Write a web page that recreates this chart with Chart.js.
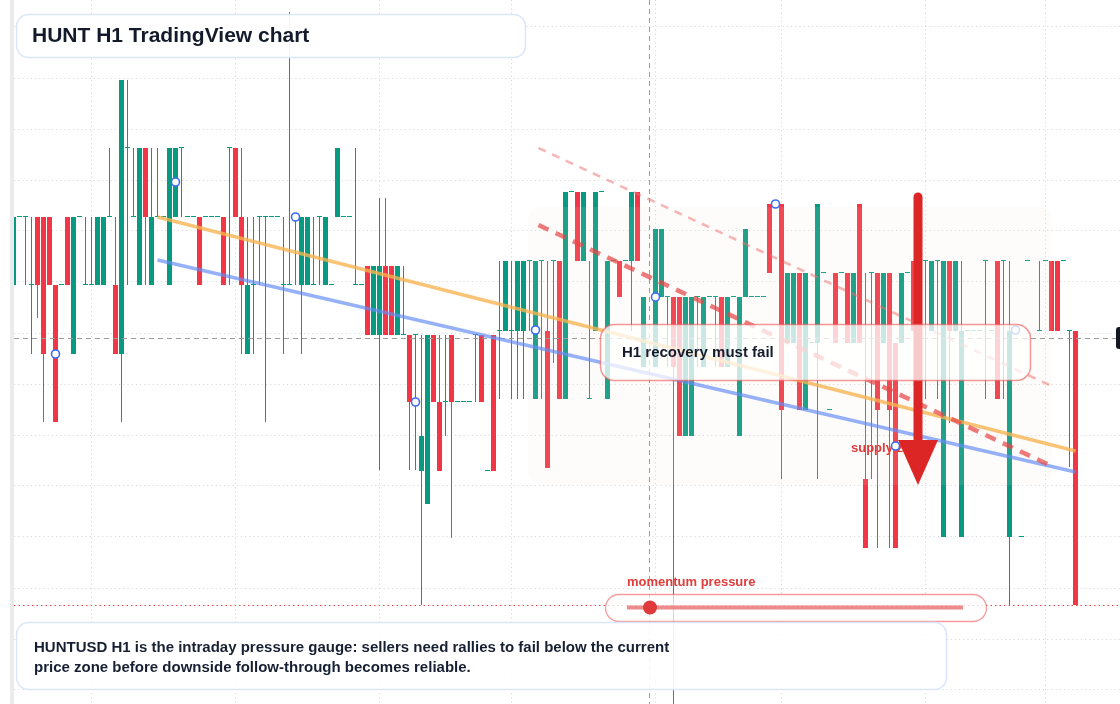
<!DOCTYPE html>
<html><head><meta charset="utf-8">
<script src="https://cdn.jsdelivr.net/npm/chart.js@4.4.1/dist/chart.umd.min.js"></script>
<style>
html,body{margin:0;padding:0;background:#fff;}
#wrap{position:relative;width:1120px;height:704px;overflow:hidden;}
canvas{display:block;}
</style></head><body>
<div id="wrap"><canvas id="c" width="1120" height="704"></canvas></div>
<script>
// HUNTUSD H1 candles (index = bar number)
const openP = [
.25320,.25388,.25388,.25320,.25388,.25388,.25388,.25320,.25320,.25388,
.25251,.25388,.25320,.25320,.25320,.25320,.25388,.25320,.25251,.25457,
.25388,.25320,.25457,.25320,.25388,.25388,.25320,.25388,.25457,.25388,
.25388,.25388,.25388,.25388,.25388,.25388,.25457,.25457,.25388,.25251,
.25320,.25388,.25388,.25388,.25388,.25320,.25320,.25388,.25320,.25320,
.25320,.25388,.25320,.25320,.25388,.25388,.25388,.25320,.25320,.25339,
.25270,.25270,.25339,.25339,.25270,.25270,.25270,.25270,.25134,.25101,
.25270,.25203,.25203,.25270,.25203,.25203,.25203,.25270,.25270,.25134,
.25270,.25274,.25274,.25274,.25274,.25274,.25344,.25206,.25344,.25274,
.25344,.25344,.25206,.25413,.25413,.25344,.25206,.25274,.25413,.25206,
.25344,.25344,.25344,.25344,.25413,.25238,null,.25238,.25308,.25308,
.25308,.25308,.25169,.25169,.25308,.25238,.25308,.25308,.25308,.25238,
.25308,.25169,.25308,.25308,.25308,.25308,.25401,null,.25401,.25262,
.25262,.25332,.25195,.25262,.25262,.25332,.25195,.25332,.25332,.25332,
.25262,.25401,.25126,.25332,.25332,.25262,.25332,.25262,.25262,.25332,
.25344,.25344,.25344,.25274,.25344,.25068,.25344,.25274,.25068,.25274,
.25274,.25274,.25344,.25274,.25344,.25344,.25068,null,.25068,.25344,
null,.25274,.25344,.25344,.25344,.25344,.25274,.25274];
const highP = [
.25388,.25388,.25388,.25388,.25388,.25388,.25388,.25320,.25320,.25388,
.25388,.25388,.25388,.25388,.25388,.25388,.25457,.25388,.25525,.25525,
.25457,.25457,.25457,.25457,.25457,.25388,.25457,.25457,.25457,.25388,
.25388,.25388,.25388,.25388,.25388,.25388,.25457,.25457,.25457,.25388,
.25388,.25388,.25388,.25388,.25388,.25388,.25593,.25388,.25388,.25388,
.25388,.25388,.25388,.25320,.25457,.25388,.25388,.25457,.25320,.25339,
.25339,.25407,.25407,.25339,.25339,.25339,.25270,.25270,.25270,.25270,
.25270,.25270,.25270,.25270,.25203,.25203,.25203,.25270,.25270,.25134,
.25270,.25344,.25344,.25344,.25344,.25344,.25344,.25344,.25344,.25344,
.25344,.25344,.25413,.25413,.25413,.25413,.25344,.25413,.25413,.25344,
.25344,.25344,.25344,.25413,.25413,.25308,null,.25376,.25376,.25308,
.25308,.25308,.25308,.25308,.25308,.25308,.25308,.25308,.25308,.25308,
.25308,.25308,.25376,.25308,.25308,.25308,.25401,null,.25401,.25332,
.25332,.25332,.25332,.25262,.25401,.25332,.25195,.25332,.25332,.25332,
.25332,.25401,.25332,.25332,.25332,.25332,.25332,.25262,.25332,.25332,
.25344,.25344,.25344,.25344,.25344,.25344,.25344,.25344,.25344,.25274,
.25274,.25274,.25344,.25274,.25344,.25344,.25344,null,.25068,.25344,
null,.25344,.25344,.25344,.25344,.25344,.25274,.25274];
const lowP = [
.25320,.25388,.25320,.25251,.25287,.25183,.25320,.25183,.25320,.25320,
.25251,.25388,.25320,.25320,.25320,.25320,.25388,.25251,.25183,.25320,
.25388,.25320,.25320,.25320,.25388,.25388,.25320,.25388,.25388,.25388,
.25388,.25320,.25388,.25388,.25388,.25320,.25320,.25388,.25251,.25251,
.25251,.25320,.25183,.25388,.25388,.25251,.25320,.25320,.25251,.25320,
.25320,.25320,.25320,.25320,.25388,.25388,.25388,.25320,.25320,.25270,
.25270,.25135,.25270,.25270,.25270,.25270,.25135,.25135,.25000,.25101,
.25203,.25134,.25169,.25067,.25203,.25203,.25203,.25203,.25203,.25134,
.25134,.25206,.25274,.25206,.25206,.25206,.25274,.25206,.25206,.25137,
.25242,.25206,.25206,.25413,.25344,.25344,.25206,.25274,.25413,.25206,
.25344,.25308,.25344,.25274,.25344,.25238,null,.25238,.25308,.25238,
.24890,.25169,.25169,.25169,.25238,.25238,.25308,.25238,.25238,.25238,
.25308,.25169,.25308,.25308,.25308,.25308,.25332,null,.25126,.25262,
.25262,.25195,.25195,.25262,.25126,.25332,.25195,.25262,.25332,.25262,
.25262,.25262,.25057,.25126,.25057,.25262,.25057,.25057,.25262,.25332,
.25274,.25344,.25206,.25274,.25206,.25068,.25182,.25274,.25068,.25274,
.25274,.25274,.25206,.25274,.25206,.25206,.25000,null,.25068,.25344,
null,.25274,.25344,.25274,.25274,.25344,.25138,.25000];
const closeP = [
.25388,.25388,.25388,.25320,.25320,.25251,.25320,.25183,.25320,.25320,
.25388,.25388,.25320,.25320,.25388,.25388,.25388,.25251,.25525,.25457,
.25388,.25457,.25388,.25388,.25388,.25388,.25457,.25457,.25457,.25388,
.25388,.25320,.25388,.25388,.25388,.25320,.25457,.25388,.25320,.25320,
.25320,.25388,.25388,.25388,.25388,.25320,.25320,.25388,.25388,.25388,
.25320,.25388,.25388,.25320,.25457,.25388,.25388,.25320,.25320,.25270,
.25339,.25339,.25270,.25270,.25339,.25270,.25203,.25270,.25169,.25270,
.25203,.25134,.25203,.25203,.25203,.25203,.25203,.25270,.25203,.25134,
.25134,.25274,.25344,.25274,.25344,.25344,.25344,.25344,.25344,.25137,
.25344,.25206,.25413,.25413,.25344,.25413,.25206,.25413,.25413,.25344,
.25344,.25308,.25344,.25413,.25344,.25308,null,.25376,.25376,.25308,
.25238,.25169,.25308,.25308,.25308,.25308,.25308,.25308,.25238,.25308,
.25308,.25308,.25376,.25308,.25308,.25308,.25332,null,.25195,.25332,
.25332,.25195,.25332,.25262,.25401,.25332,.25195,.25262,.25332,.25262,
.25332,.25262,.25057,.25332,.25195,.25332,.25195,.25057,.25332,.25332,
.25274,.25344,.25344,.25344,.25344,.25344,.25274,.25344,.25274,.25274,
.25274,.25274,.25344,.25274,.25206,.25344,.25274,null,.25068,.25344,
null,.25274,.25344,.25274,.25274,.25344,.25274,.25000];

// blue swing markers
const markerIdx  = [7, 27, 47, 67, 87, 107, 127, 147, 167];
const markerVals = [.25251, .25423, .25388, .25203, .25275, .25308, .25401, .25159, .25275];

// trend lines [bar index, price]
const orangeTrend = [[24, .25388], [177, .25154]];
const blueTrend   = [[24, .25345], [177, .25133]];
const lightRedDash = [[87.5, .25457], [173, .25219]];
const darkRedDash  = [[87.5, .25380], [173, .25139]];

// supply zone / arrow / crosshair / price line
const zoneBars   = [85.75, 173.1];
const zonePrices = [.25398, .25120];
const arrowBar = 150.75, arrowFrom = .25408, arrowHead = .25165, arrowTip = .25120;
const crossBar = 106, crossPrice = .25267;
const lastPrice = .25000;

// grid tick positions
const xGridIdx = [13, 37, 61, 83, 107, 128, 152, 172];
const yGridVals = [.25578,.25527,.25476,.25425,.25374,.25323,.25272,.25221,.25170,.25119,.25068,.25017,.24966,.24915];

const UP = '#089981', DOWN = '#f23645';
const bodies = [], wicks = [];
for (let i = 0; i < openP.length; i++) {
  if (openP[i] == null) continue;
  const o = openP[i], c = closeP[i], isUp = c >= o;
  bodies.push({x: i, y: [Math.min(o, c), Math.max(o, c)], up: isUp});
  wicks.push({x: i, y: [lowP[i], highP[i]], up: isUp});
}
const toPts = a => a.map(p => ({x: p[0], y: p[1]}));
const FONT = '"Liberation Sans", Arial, Helvetica, sans-serif';

function rrect(ctx, x, y, w, h, r) { ctx.beginPath(); ctx.roundRect(x, y, w, h, r); }

const overlay = {
  id: 'overlay',
  afterDatasetDraw(chart, args) {
    const ctx = chart.ctx, xs = chart.scales.x, ys = chart.scales.y, ca = chart.chartArea;
    const lbl = chart.data.datasets[args.index].label;
    if (lbl === 'bodies') {
      const x1 = xs.getPixelForValue(zoneBars[0]), x2 = xs.getPixelForValue(zoneBars[1]);
      const y1 = ys.getPixelForValue(zonePrices[0]), y2 = ys.getPixelForValue(zonePrices[1]);
      ctx.save();
      rrect(ctx, x1, y1, x2 - x1, y2 - y1, 14);
      ctx.fillStyle = 'rgba(240,226,212,0.11)';
      ctx.fill();
      ctx.strokeStyle = '#9b9b9b'; ctx.lineWidth = 1; ctx.setLineDash([5, 4]);
      const cx = Math.round(xs.getPixelForValue(crossBar)) + 0.5;
      const cy = Math.round(ys.getPixelForValue(crossPrice)) + 0.5;
      ctx.beginPath(); ctx.moveTo(cx, 0); ctx.lineTo(cx, 704); ctx.stroke();
      ctx.beginPath(); ctx.moveTo(ca.left, cy); ctx.lineTo(1120, cy); ctx.stroke();
      const py = Math.round(ys.getPixelForValue(lastPrice)) + 0.5;
      ctx.strokeStyle = '#ef4444'; ctx.setLineDash([1.5, 3]);
      ctx.beginPath(); ctx.moveTo(ca.left, py); ctx.lineTo(1120, py); ctx.stroke();
      ctx.restore();
    }
    if (lbl === 'darkDash') {
      ctx.save();
      ctx.font = 'bold 13px ' + FONT; ctx.fillStyle = '#e03c3c';
      ctx.textBaseline = 'middle';
      ctx.fillText('supply zone', 851, 448);
      ctx.restore();
    }
  },
  afterDatasetsDraw(chart) {
    const ctx = chart.ctx, xs = chart.scales.x, ys = chart.scales.y;
    ctx.save();
    const ax = xs.getPixelForValue(arrowBar);
    const ay1 = ys.getPixelForValue(arrowFrom), ayh = ys.getPixelForValue(arrowHead), ayt = ys.getPixelForValue(arrowTip);
    ctx.strokeStyle = '#dc2626'; ctx.fillStyle = '#dc2626';
    ctx.lineWidth = 9; ctx.lineCap = 'round';
    ctx.beginPath(); ctx.moveTo(ax, ay1); ctx.lineTo(ax, ayh + 4); ctx.stroke();
    ctx.beginPath(); ctx.moveTo(ax - 20, ayh); ctx.lineTo(ax + 20, ayh); ctx.lineTo(ax, ayt); ctx.closePath(); ctx.fill();
    ctx.lineCap = 'butt';

    rrect(ctx, 600.5, 324.5, 430, 56, 14);
    ctx.fillStyle = 'rgba(255,255,255,0.76)'; ctx.fill();
    ctx.strokeStyle = 'rgba(236,80,80,0.6)'; ctx.lineWidth = 1.5; ctx.stroke();
    ctx.fillStyle = '#141b2b'; ctx.font = 'bold 15px ' + FONT; ctx.textBaseline = 'middle';
    ctx.fillText('H1 recovery must fail', 622, 353);

    ctx.font = 'bold 13px ' + FONT; ctx.fillStyle = '#e03c3c';
    ctx.fillText('momentum pressure', 627, 582);
    rrect(ctx, 605.5, 594.5, 381, 27, 13.5);
    ctx.fillStyle = 'rgba(255,255,255,0.72)'; ctx.fill();
    ctx.strokeStyle = 'rgba(236,90,90,0.6)'; ctx.lineWidth = 1.3; ctx.stroke();
    ctx.strokeStyle = 'rgba(232,100,100,0.75)'; ctx.lineWidth = 4;
    ctx.beginPath(); ctx.moveTo(627, 607.5); ctx.lineTo(963, 607.5); ctx.stroke();
    ctx.fillStyle = '#e03a3a';
    ctx.beginPath(); ctx.arc(650, 607.5, 7, 0, Math.PI * 2); ctx.fill();

    rrect(ctx, 16.5, 622.5, 930, 67, 12);
    ctx.fillStyle = 'rgba(255,255,255,0.9)'; ctx.fill();
    ctx.strokeStyle = '#d9e6fb'; ctx.lineWidth = 1.5; ctx.stroke();
    ctx.fillStyle = '#172033'; ctx.font = 'bold 15px ' + FONT;
    ctx.fillText('HUNTUSD H1 is the intraday pressure gauge: sellers need rallies to fail below the current', 34, 648);
    ctx.fillText('price zone before downside follow-through becomes reliable.', 34, 668);

    rrect(ctx, 16.5, 14.5, 509, 43, 12);
    ctx.fillStyle = 'rgba(255,255,255,0.92)'; ctx.fill();
    ctx.strokeStyle = '#d9e6fb'; ctx.lineWidth = 1.5; ctx.stroke();
    ctx.fillStyle = '#131a2a'; ctx.font = 'bold 21px ' + FONT;
    ctx.fillText('HUNT H1 TradingView chart', 32, 36.5);

    ctx.fillStyle = '#ebebeb'; ctx.fillRect(10, 0, 4, 704);
    ctx.fillStyle = '#131722';
    rrect(ctx, 1116, 327, 12, 22, 3); ctx.fill();
    ctx.restore();
  }
};

new Chart(document.getElementById('c'), {
  type: 'bar',
  data: {
    datasets: [
      {label: 'markers', type: 'line', data: markerIdx.map((k, i) => ({x: k, y: markerVals[i]})),
       showLine: false, pointRadius: 4, pointHoverRadius: 4, pointBorderWidth: 1.6,
       pointBorderColor: '#3b6df5', pointBackgroundColor: '#ffffff', order: 0},
      {label: 'darkDash', type: 'line', data: toPts(darkRedDash), borderColor: 'rgba(230,70,70,0.72)',
       borderWidth: 4.5, borderDash: [11, 8], pointRadius: 0, order: 1},
      {label: 'lightDash', type: 'line', data: toPts(lightRedDash), borderColor: 'rgba(240,110,110,0.5)',
       borderWidth: 2.6, borderDash: [8, 7], pointRadius: 0, order: 2},
      {label: 'blue', type: 'line', data: toPts(blueTrend), borderColor: 'rgba(100,140,245,0.68)',
       borderWidth: 3.5, pointRadius: 0, order: 3},
      {label: 'orange', type: 'line', data: toPts(orangeTrend), borderColor: 'rgba(249,180,80,0.78)',
       borderWidth: 3.5, pointRadius: 0, order: 4},
      {label: 'bodies', data: bodies, barThickness: 5, minBarLength: 1, grouped: false,
       backgroundColor: c => (c.raw && c.raw.up) ? UP : DOWN, borderWidth: 0, inflateAmount: 0, order: 5},
      {label: 'wicks', data: wicks, barThickness: 1, minBarLength: 1, grouped: false,
       backgroundColor: c => (c.raw && c.raw.up) ? UP : DOWN, borderWidth: 0, inflateAmount: 0, order: 6}
    ]
  },
  options: {
    responsive: false, animation: false, devicePixelRatio: 1,
    layout: {autoPadding: false, padding: {left: 14, right: 0, top: 0, bottom: 0}},
    plugins: {legend: {display: false}, tooltip: {enabled: false}},
    events: [],
    scales: {
      x: {type: 'linear', min: 0.08333, max: 184.41667, offset: false, bounds: 'data',
          afterBuildTicks: s => { s.ticks = xGridIdx.map(v => ({value: v})); },
          ticks: {display: false},
          grid: {color: '#d6d9dd', drawTicks: false, lineWidth: 1, offset: false},
          border: {display: false, dash: [1.2, 3]}},
      y: {type: 'linear', min: 0.24901, max: 0.25605, beginAtZero: false, bounds: 'data',
          afterBuildTicks: s => { s.ticks = yGridVals.map(v => ({value: v})); },
          ticks: {display: false},
          grid: {color: '#d6d9dd', drawTicks: false, lineWidth: 1},
          border: {display: false, dash: [1.2, 3]}}
    }
  },
  plugins: [overlay]
});
</script>
</body></html>
